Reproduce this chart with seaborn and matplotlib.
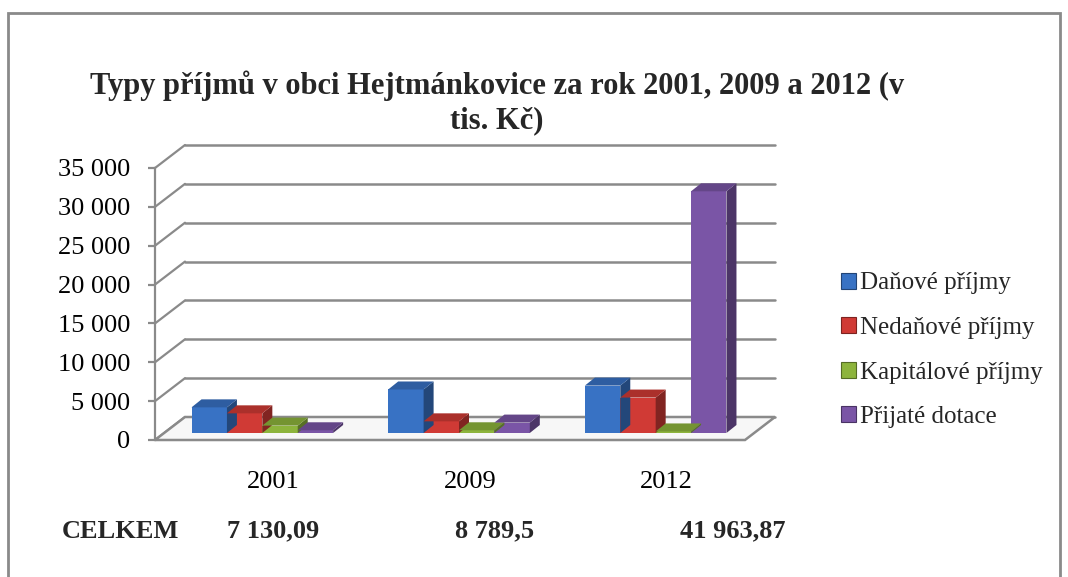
import matplotlib
matplotlib.use("Agg")
import matplotlib.pyplot as plt
import matplotlib.transforms as mtransforms
from matplotlib.patches import Polygon, Rectangle
from matplotlib.lines import Line2D
from matplotlib.ticker import FuncFormatter, MultipleLocator
import seaborn as sns
import pandas as pd
import numpy as np

# ---- data ----
years = ["2001", "2009", "2012"]
series_names = ["Daňové příjmy", "Nedaňové příjmy", "Kapitálové příjmy", "Přijaté dotace"]
danove = [3300, 5600, 6100]
nedanove = [2530, 1500, 4560]
kapitalove = [950, 350, 200]
dotace = [350, 1340, 31100]
totals_label = "CELKEM"
totals = ["7 130,09", "8 789,5", "41 963,87"]
title = "Typy příjmů v obci Hejtmánkovice za rok 2001, 2009 a 2012 (v\ntis. Kč)"

colors = ["#3872c4", "#d03a35", "#8db43c", "#7a55a6"]

df = pd.DataFrame({
    "rok": np.repeat(years, 4),
    "typ": series_names * 3,
    "hodnota": [v for quad in zip(danove, nedanove, kapitalove, dotace) for v in quad],
})

sns.set_theme(style="white")
plt.rcParams["font.family"] = ["Liberation Serif", "DejaVu Serif"]

W, H = 1068, 577
DPI = 100
fig = plt.figure(figsize=(W / DPI, H / DPI), dpi=DPI)
# axes = front plane of the 3D box
ax = fig.add_axes([155 / W, 1 - 440 / H, 590 / W, 272 / H])

sns.barplot(data=df, x="rok", y="hodnota", hue="typ", hue_order=series_names,
            palette=colors, width=0.72, ax=ax, legend=False, saturation=1,
            edgecolor="none", linewidth=0)
bars = [p for p in ax.patches if isinstance(p, Rectangle)]

ax.set_xlim(-0.5, 2.5)
ax.set_ylim(0, 35000)
ax.yaxis.set_major_locator(MultipleLocator(5000))
ax.yaxis.set_major_formatter(FuncFormatter(lambda v, p: f"{int(v):,}".replace(",", " ")))
ax.set_xlabel("")
ax.set_ylabel("")
for s in ["top", "right", "bottom"]:
    ax.spines[s].set_visible(False)
ax.spines["left"].set_color("#8a8a8a")
ax.spines["left"].set_linewidth(1.6)
ax.tick_params(axis="y", which="major", left=True, length=5, width=1.6, color="#8a8a8a",
               labelsize=19, pad=13, labelcolor="black")
ax.tick_params(axis="x", bottom=False, labelsize=19, pad=16, labelcolor="black")
lab_shift = mtransforms.ScaledTranslation(20 / DPI, 0, fig.dpi_scale_trans)
for lab in ax.get_xticklabels():
    lab.set_transform(lab.get_transform() + lab_shift)

GRID = "#8a8a8a"
DX, DY = 30, 23  # depth of the box in pixels

# shift the bars to the middle depth of the box
bar_shift = mtransforms.ScaledTranslation(9 / DPI, 7 / DPI, fig.dpi_scale_trans)
for p in bars:
    p.set_transform(ax.transData + bar_shift)
    p.set_zorder(3)
    p.set_clip_on(False)

ident = mtransforms.IdentityTransform()

# back-wall gridlines and diagonal connectors
back_shift = mtransforms.ScaledTranslation(DX / DPI, DY / DPI, fig.dpi_scale_trans)
grid_tr = ax.get_yaxis_transform() + back_shift
for v in np.arange(0, 35001, 5000):
    ax.add_artist(Line2D([0, 1], [v, v], transform=grid_tr, color=GRID,
                         lw=1.8, zorder=0.4, clip_on=False))
    p0 = ax.get_yaxis_transform().transform((0, v))
    ax.add_artist(Line2D([p0[0], p0[0] + DX], [p0[1], p0[1] + DY], transform=ident,
                         color=GRID, lw=1.6, zorder=0.4, clip_on=False))

# floor
f0 = ax.transAxes.transform((0, 0))
f1 = ax.transAxes.transform((1, 0))
floor = Polygon([[f0[0], f0[1]], [f1[0], f1[1]], [f1[0] + DX, f1[1] + DY],
                 [f0[0] + DX, f0[1] + DY]],
                closed=True, transform=ident, facecolor="#f7f7f7",
                edgecolor=GRID, lw=1.8, zorder=0.6, clip_on=False)
ax.add_artist(floor)

# pseudo 3D faces on bars
fig.canvas.draw()
def darker(c, f):
    c = np.array(matplotlib.colors.to_rgb(c))
    return tuple(np.clip(c * f, 0, 1))

for patch in bars:
    bb = patch.get_window_extent()
    fc = patch.get_facecolor()[:3]
    dx, dy = 10, 8
    side = Polygon([[bb.x1, bb.y0], [bb.x1 + dx, bb.y0 + dy], [bb.x1 + dx, bb.y1 + dy],
                    [bb.x1, bb.y1]], closed=True, transform=ident,
                   facecolor=darker(fc, 0.62), edgecolor="none", zorder=3, clip_on=False)
    top = Polygon([[bb.x0, bb.y1], [bb.x0 + dx, bb.y1 + dy], [bb.x1 + dx, bb.y1 + dy],
                   [bb.x1, bb.y1]], closed=True, transform=ident,
                  facecolor=darker(fc, 0.82), edgecolor="none", zorder=3, clip_on=False)
    ax.add_artist(side)
    ax.add_artist(top)

# title
fig.text(497 / W, 1 - 70 / H, title, ha="center", va="top", fontsize=22,
         fontweight="bold", linespacing=1.25)

# legend
handles = [Rectangle((0, 0), 1, 1, facecolor=c, edgecolor=darker(c, 0.6), lw=0.8)
           for c in colors]
fig.legend(handles, series_names, loc="upper left", bbox_to_anchor=(828 / W, 1 - 260 / H),
           frameon=False, fontsize=18, handlelength=0.6, handleheight=0.6,
           handletextpad=0.2, labelspacing=0.9, borderpad=0)

# totals row
fig.text(62 / W, 1 - 531 / H, totals_label, ha="left", va="center", fontsize=19,
         fontweight="bold")
for xpos, t in zip([227, 455, 680], totals):
    fig.text(xpos / W, 1 - 531 / H, t, ha="left", va="center", fontsize=19,
             fontweight="bold")

# chart border
fig.add_artist(Rectangle((8 / W, -0.05), (1060 - 8) / W, 1.05 - 13 / H,
                         transform=fig.transFigure, fill=False,
                         edgecolor="#8a8a8a", lw=2))

fig.savefig("out.png", dpi=DPI)
